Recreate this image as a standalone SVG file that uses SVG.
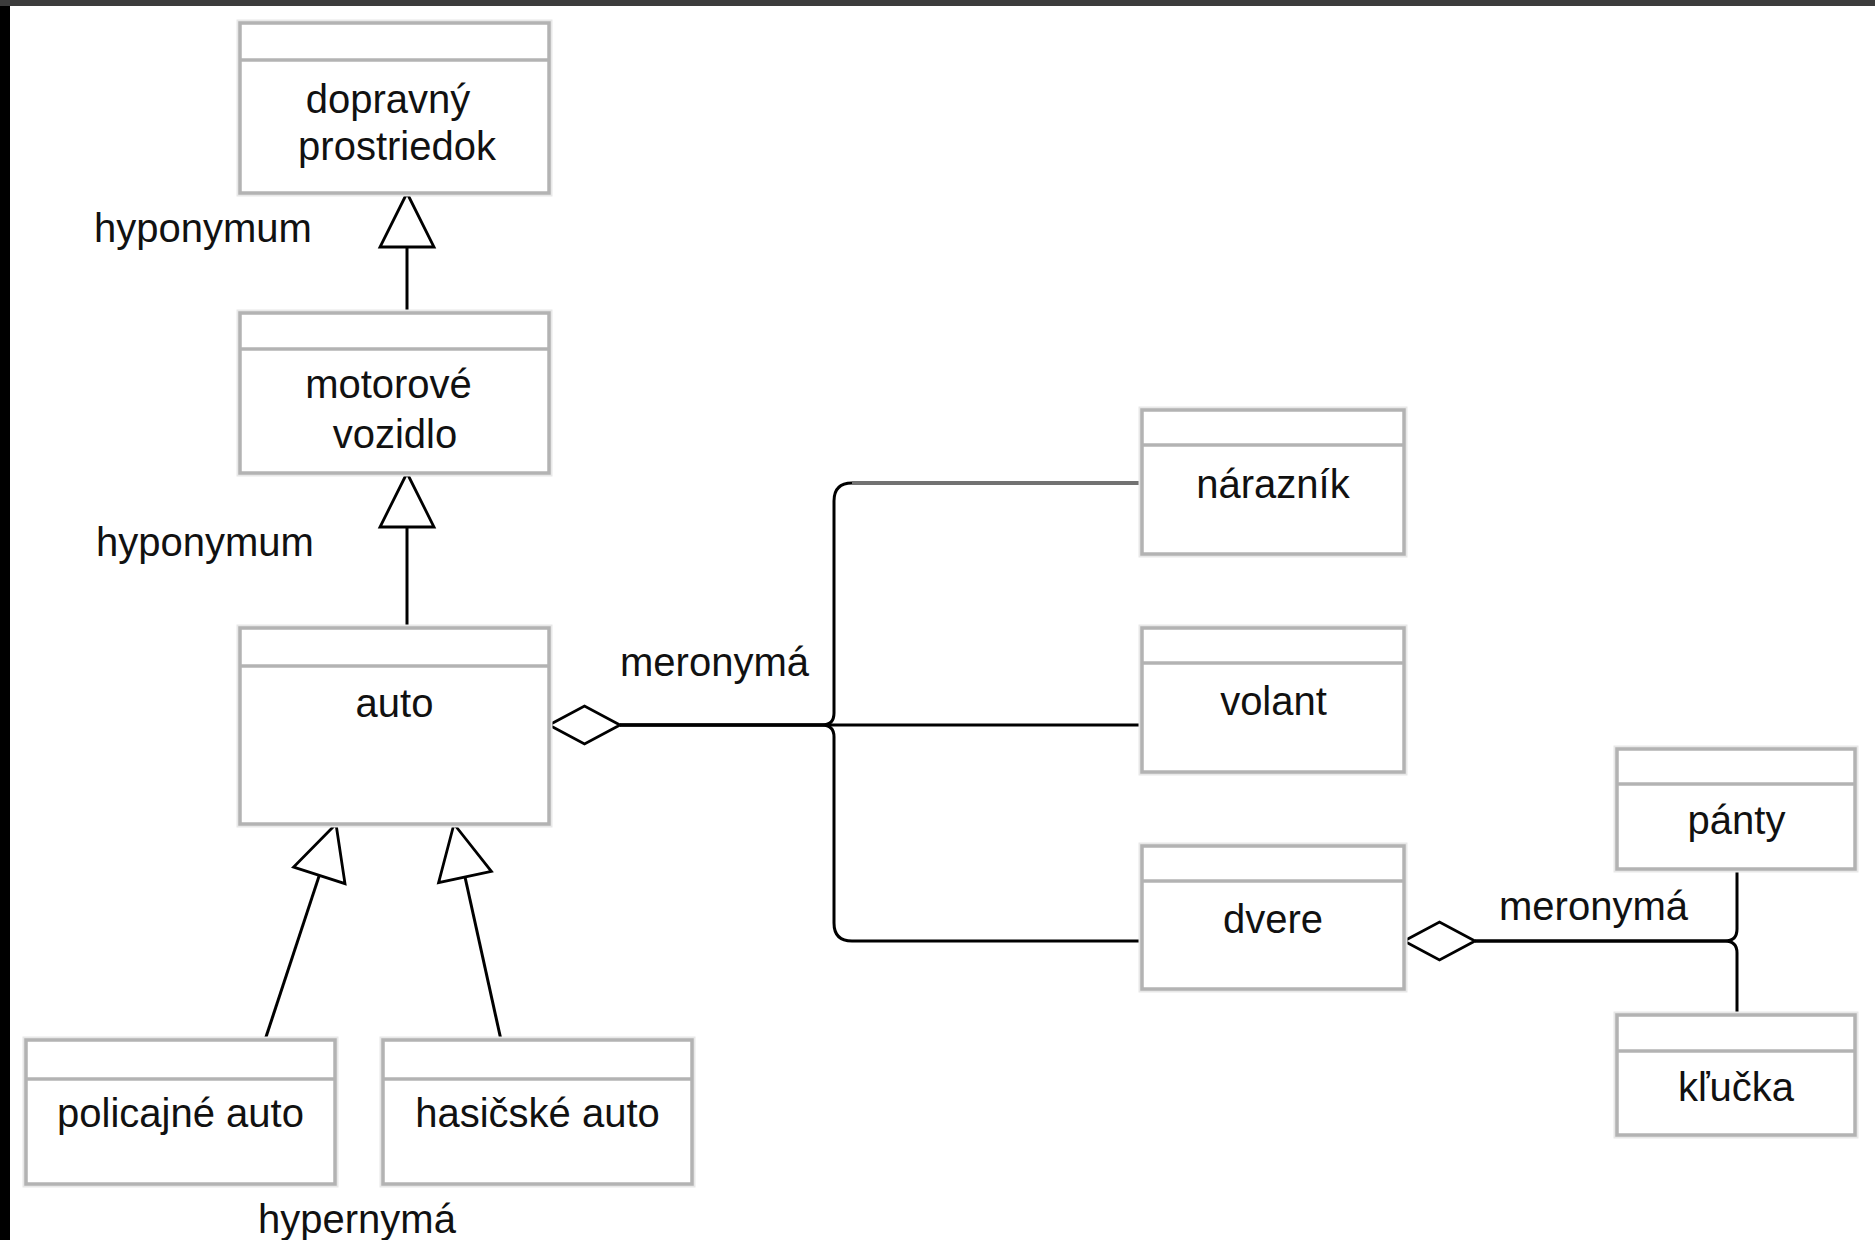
<svg xmlns="http://www.w3.org/2000/svg" width="1875" height="1240" viewBox="0 0 1875 1240">
<style>
.halo{fill:none;stroke:#e8e8e8;stroke-width:7}
.box{fill:#fff;stroke:#b3b3b3;stroke-width:3.5}
.div{stroke:#b3b3b3;stroke-width:3.5}
.t{font-family:"Liberation Sans",Arial,sans-serif;font-size:40px;fill:#111}
.c{text-anchor:middle}
.ln{fill:none;stroke:#000;stroke-width:3}
.tri{fill:#fff;stroke:#000;stroke-width:2.8;stroke-linejoin:miter}
</style>
<rect x="0" y="0" width="1875" height="1240" fill="#fff"/>
<rect x="0" y="0" width="1875" height="6" fill="#3c3c3c"/>
<rect x="0" y="6" width="10" height="1234" fill="#000"/>

<g id="connectors">
  <line class="ln" x1="407" y1="247" x2="407" y2="313"/>
  <polygon class="tri" points="407,193 434,247 380,247"/>
  <line class="ln" x1="407" y1="527" x2="407" y2="628"/>
  <polygon class="tri" points="407,473 434,527 380,527"/>
  <line class="ln" x1="319.3" y1="875.4" x2="265" y2="1040"/>
  <polygon class="tri" points="336,824 345,883.7 293.6,867"/>
  <line class="ln" x1="465" y1="877" x2="501" y2="1040"/>
  <polygon class="tri" points="454,824 491.4,871.3 438.6,882.7"/>
  <path class="ln" d="M620,725 H822 Q834,725 834,713 V501 Q834,483 852,483 H1142"/>
  <line x1="852" y1="483" x2="1142" y2="483" stroke="#727272" stroke-width="4"/>
  <path class="ln" d="M620,725 H1142"/>
  <path class="ln" d="M620,725 H822 Q834,725 834,737 V923 Q834,941 852,941 H1142"/>
  <polygon class="tri" points="549,725 584.5,706 620,725 584.5,744"/>
  <path class="ln" d="M1475,941 H1725 Q1737,941 1737,929 V869"/>
  <path class="ln" d="M1475,941 H1725 Q1737,941 1737,953 V1015"/>
  <polygon class="tri" points="1404,941 1439.5,922 1475,941 1439.5,960"/>
</g>

<g id="dopravny">
  <rect class="halo" x="240" y="23" width="309" height="170"/>
  <rect class="box" x="240" y="23" width="309" height="170"/>
  <line class="div" x1="240" y1="60" x2="549" y2="60"/>
  <text class="t c" x="388" y="113">dopravný</text>
  <text class="t c" x="397" y="160">prostriedok</text>
</g>
<g id="motorove">
  <rect class="halo" x="240" y="313" width="309" height="160"/>
  <rect class="box" x="240" y="313" width="309" height="160"/>
  <line class="div" x1="240" y1="349" x2="549" y2="349"/>
  <text class="t c" x="388.5" y="398">motorové</text>
  <text class="t c" x="395" y="448">vozidlo</text>
</g>
<g id="auto">
  <rect class="halo" x="240" y="628" width="309" height="196"/>
  <rect class="box" x="240" y="628" width="309" height="196"/>
  <line class="div" x1="240" y1="666" x2="549" y2="666"/>
  <text class="t c" x="394.5" y="717">auto</text>
</g>
<g id="policajne">
  <rect class="halo" x="26" y="1040" width="309" height="144"/>
  <rect class="box" x="26" y="1040" width="309" height="144"/>
  <line class="div" x1="26" y1="1079" x2="335" y2="1079"/>
  <text class="t c" x="180.5" y="1127">policajné auto</text>
</g>
<g id="hasicske">
  <rect class="halo" x="383" y="1040" width="309" height="144"/>
  <rect class="box" x="383" y="1040" width="309" height="144"/>
  <line class="div" x1="383" y1="1079" x2="692" y2="1079"/>
  <text class="t c" x="537.5" y="1127">hasičské auto</text>
</g>
<g id="naraznik">
  <rect class="halo" x="1142" y="410" width="262" height="144"/>
  <rect class="box" x="1142" y="410" width="262" height="144"/>
  <line class="div" x1="1142" y1="445" x2="1404" y2="445"/>
  <text class="t c" x="1273" y="498">nárazník</text>
</g>
<g id="volant">
  <rect class="halo" x="1142" y="628" width="262" height="144"/>
  <rect class="box" x="1142" y="628" width="262" height="144"/>
  <line class="div" x1="1142" y1="663" x2="1404" y2="663"/>
  <text class="t c" x="1273.5" y="715">volant</text>
</g>
<g id="dvere">
  <rect class="halo" x="1142" y="846" width="262" height="143"/>
  <rect class="box" x="1142" y="846" width="262" height="143"/>
  <line class="div" x1="1142" y1="881" x2="1404" y2="881"/>
  <text class="t c" x="1273" y="933">dvere</text>
</g>
<g id="panty">
  <rect class="halo" x="1617" y="749" width="238" height="120"/>
  <rect class="box" x="1617" y="749" width="238" height="120"/>
  <line class="div" x1="1617" y1="784" x2="1855" y2="784"/>
  <text class="t c" x="1736.5" y="834">pánty</text>
</g>
<g id="klucka">
  <rect class="halo" x="1617" y="1015" width="238" height="120"/>
  <rect class="box" x="1617" y="1015" width="238" height="120"/>
  <line class="div" x1="1617" y1="1051" x2="1855" y2="1051"/>
  <text class="t c" x="1736" y="1101">kľučka</text>
</g>

<g id="labels">
  <text class="t" x="94" y="242">hyponymum</text>
  <text class="t" x="96" y="556">hyponymum</text>
  <text class="t" x="620" y="676">meronymá</text>
  <text class="t" x="258" y="1233">hypernymá</text>
  <text class="t" x="1499" y="920">meronymá</text>
</g>
</svg>
